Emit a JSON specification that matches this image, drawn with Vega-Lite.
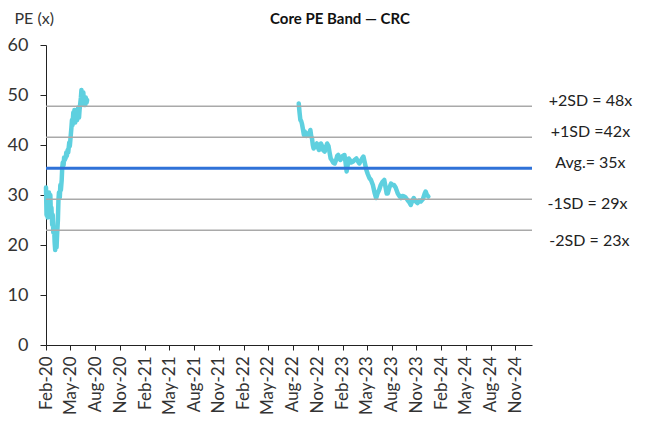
{
  "$schema": "https://vega.github.io/schema/vega-lite/v6.json",
  "width": 486,
  "height": 300,
  "autosize": "none",
  "padding": {"left": 46, "top": 45, "right": 121, "bottom": 80},
  "background": "white",
  "config": {
    "view": {"stroke": null},
    "font": "Lato",
    "axis": {"grid": false, "domainColor": "#222", "tickColor": "#222", "labelColor": "#333", "labelFont": "Lato", "labelFontSize": 17, "titleFont": "Lato"},
    "axisX": {"labelOverlap": false, "labelSeparation": 0}
  },
  "title": {"text": "Core PE Band — CRC", "fontSize": 15, "fontWeight": "bold", "font": "Lato", "anchor": "middle", "dx": 51, "offset": -17, "color": "#111"},
  "datasets": {
    "pe": [
      {"date": "2020-02-01", "pe": 31.5, "seg": "A"},
      {"date": "2020-02-03", "pe": 26, "seg": "A"},
      {"date": "2020-02-05", "pe": 29, "seg": "A"},
      {"date": "2020-02-07", "pe": 25.5, "seg": "A"},
      {"date": "2020-02-10", "pe": 28, "seg": "A"},
      {"date": "2020-02-12", "pe": 30.5, "seg": "A"},
      {"date": "2020-02-14", "pe": 27, "seg": "A"},
      {"date": "2020-02-17", "pe": 30, "seg": "A"},
      {"date": "2020-02-19", "pe": 26.5, "seg": "A"},
      {"date": "2020-02-21", "pe": 27.5, "seg": "A"},
      {"date": "2020-02-24", "pe": 24, "seg": "A"},
      {"date": "2020-02-26", "pe": 26, "seg": "A"},
      {"date": "2020-02-28", "pe": 22.5, "seg": "A"},
      {"date": "2020-03-02", "pe": 23.5, "seg": "A"},
      {"date": "2020-03-04", "pe": 20.5, "seg": "A"},
      {"date": "2020-03-06", "pe": 19, "seg": "A"},
      {"date": "2020-03-09", "pe": 21, "seg": "A"},
      {"date": "2020-03-11", "pe": 19.5, "seg": "A"},
      {"date": "2020-03-13", "pe": 22, "seg": "A"},
      {"date": "2020-03-16", "pe": 25, "seg": "A"},
      {"date": "2020-03-18", "pe": 29, "seg": "A"},
      {"date": "2020-03-20", "pe": 30.5, "seg": "A"},
      {"date": "2020-03-23", "pe": 29.5, "seg": "A"},
      {"date": "2020-03-25", "pe": 32, "seg": "A"},
      {"date": "2020-03-27", "pe": 31, "seg": "A"},
      {"date": "2020-03-30", "pe": 33, "seg": "A"},
      {"date": "2020-04-01", "pe": 35.5, "seg": "A"},
      {"date": "2020-04-03", "pe": 36.5, "seg": "A"},
      {"date": "2020-04-06", "pe": 36, "seg": "A"},
      {"date": "2020-04-08", "pe": 37.5, "seg": "A"},
      {"date": "2020-04-10", "pe": 37, "seg": "A"},
      {"date": "2020-04-14", "pe": 37.5, "seg": "A"},
      {"date": "2020-04-16", "pe": 38.5, "seg": "A"},
      {"date": "2020-04-18", "pe": 37.8, "seg": "A"},
      {"date": "2020-04-21", "pe": 39, "seg": "A"},
      {"date": "2020-04-23", "pe": 38.5, "seg": "A"},
      {"date": "2020-04-27", "pe": 40.5, "seg": "A"},
      {"date": "2020-04-29", "pe": 39.8, "seg": "A"},
      {"date": "2020-05-01", "pe": 41, "seg": "A"},
      {"date": "2020-05-05", "pe": 43.5, "seg": "A"},
      {"date": "2020-05-07", "pe": 45, "seg": "A"},
      {"date": "2020-05-09", "pe": 44, "seg": "A"},
      {"date": "2020-05-12", "pe": 46.5, "seg": "A"},
      {"date": "2020-05-14", "pe": 45, "seg": "A"},
      {"date": "2020-05-16", "pe": 47, "seg": "A"},
      {"date": "2020-05-19", "pe": 44.5, "seg": "A"},
      {"date": "2020-05-21", "pe": 46, "seg": "A"},
      {"date": "2020-05-23", "pe": 47, "seg": "A"},
      {"date": "2020-05-26", "pe": 45, "seg": "A"},
      {"date": "2020-05-28", "pe": 46.5, "seg": "A"},
      {"date": "2020-05-30", "pe": 47.5, "seg": "A"},
      {"date": "2020-06-02", "pe": 45.5, "seg": "A"},
      {"date": "2020-06-04", "pe": 47, "seg": "A"},
      {"date": "2020-06-06", "pe": 48, "seg": "A"},
      {"date": "2020-06-09", "pe": 49.5, "seg": "A"},
      {"date": "2020-06-11", "pe": 51, "seg": "A"},
      {"date": "2020-06-13", "pe": 50, "seg": "A"},
      {"date": "2020-06-16", "pe": 48.5, "seg": "A"},
      {"date": "2020-06-18", "pe": 50.5, "seg": "A"},
      {"date": "2020-06-20", "pe": 48, "seg": "A"},
      {"date": "2020-06-23", "pe": 49, "seg": "A"},
      {"date": "2020-06-25", "pe": 48, "seg": "A"},
      {"date": "2020-06-27", "pe": 49.5, "seg": "A"},
      {"date": "2020-06-30", "pe": 48.5, "seg": "A"},
      {"date": "2020-07-02", "pe": 49, "seg": "A"},
      {"date": "2022-08-23", "pe": 48.3, "seg": "B"},
      {"date": "2022-08-26", "pe": 46.5, "seg": "B"},
      {"date": "2022-08-29", "pe": 45, "seg": "B"},
      {"date": "2022-09-01", "pe": 44.8, "seg": "B"},
      {"date": "2022-09-04", "pe": 44.2, "seg": "B"},
      {"date": "2022-09-08", "pe": 43, "seg": "B"},
      {"date": "2022-09-11", "pe": 42, "seg": "B"},
      {"date": "2022-09-14", "pe": 42.7, "seg": "B"},
      {"date": "2022-09-17", "pe": 42.2, "seg": "B"},
      {"date": "2022-09-20", "pe": 41.8, "seg": "B"},
      {"date": "2022-09-24", "pe": 42.3, "seg": "B"},
      {"date": "2022-09-28", "pe": 41.9, "seg": "B"},
      {"date": "2022-10-02", "pe": 42.5, "seg": "B"},
      {"date": "2022-10-05", "pe": 43, "seg": "B"},
      {"date": "2022-10-08", "pe": 41.8, "seg": "B"},
      {"date": "2022-10-11", "pe": 41.3, "seg": "B"},
      {"date": "2022-10-14", "pe": 40, "seg": "B"},
      {"date": "2022-10-17", "pe": 39.3, "seg": "B"},
      {"date": "2022-10-21", "pe": 39.8, "seg": "B"},
      {"date": "2022-10-25", "pe": 40, "seg": "B"},
      {"date": "2022-10-29", "pe": 40.3, "seg": "B"},
      {"date": "2022-11-02", "pe": 39.5, "seg": "B"},
      {"date": "2022-11-06", "pe": 39, "seg": "B"},
      {"date": "2022-11-09", "pe": 39.2, "seg": "B"},
      {"date": "2022-11-13", "pe": 40.3, "seg": "B"},
      {"date": "2022-11-17", "pe": 39.8, "seg": "B"},
      {"date": "2022-11-21", "pe": 39, "seg": "B"},
      {"date": "2022-11-27", "pe": 38.7, "seg": "B"},
      {"date": "2022-12-01", "pe": 39.5, "seg": "B"},
      {"date": "2022-12-06", "pe": 40.3, "seg": "B"},
      {"date": "2022-12-11", "pe": 39.8, "seg": "B"},
      {"date": "2022-12-15", "pe": 38.5, "seg": "B"},
      {"date": "2022-12-19", "pe": 37.3, "seg": "B"},
      {"date": "2022-12-23", "pe": 37, "seg": "B"},
      {"date": "2022-12-28", "pe": 36.5, "seg": "B"},
      {"date": "2023-01-03", "pe": 36.3, "seg": "B"},
      {"date": "2023-01-08", "pe": 37, "seg": "B"},
      {"date": "2023-01-12", "pe": 37.8, "seg": "B"},
      {"date": "2023-01-16", "pe": 38, "seg": "B"},
      {"date": "2023-01-20", "pe": 37.5, "seg": "B"},
      {"date": "2023-01-24", "pe": 37, "seg": "B"},
      {"date": "2023-01-28", "pe": 37.3, "seg": "B"},
      {"date": "2023-02-02", "pe": 37.8, "seg": "B"},
      {"date": "2023-02-08", "pe": 38, "seg": "B"},
      {"date": "2023-02-12", "pe": 36.5, "seg": "B"},
      {"date": "2023-02-16", "pe": 34.7, "seg": "B"},
      {"date": "2023-02-20", "pe": 36, "seg": "B"},
      {"date": "2023-02-24", "pe": 37.3, "seg": "B"},
      {"date": "2023-02-28", "pe": 37, "seg": "B"},
      {"date": "2023-03-05", "pe": 36.5, "seg": "B"},
      {"date": "2023-03-12", "pe": 36.7, "seg": "B"},
      {"date": "2023-03-17", "pe": 37, "seg": "B"},
      {"date": "2023-03-24", "pe": 37.3, "seg": "B"},
      {"date": "2023-03-29", "pe": 36.8, "seg": "B"},
      {"date": "2023-04-04", "pe": 36.3, "seg": "B"},
      {"date": "2023-04-09", "pe": 36.8, "seg": "B"},
      {"date": "2023-04-14", "pe": 37.3, "seg": "B"},
      {"date": "2023-04-19", "pe": 37.7, "seg": "B"},
      {"date": "2023-04-24", "pe": 36.5, "seg": "B"},
      {"date": "2023-04-30", "pe": 35, "seg": "B"},
      {"date": "2023-05-05", "pe": 34.2, "seg": "B"},
      {"date": "2023-05-11", "pe": 33.4, "seg": "B"},
      {"date": "2023-05-17", "pe": 33, "seg": "B"},
      {"date": "2023-05-24", "pe": 32, "seg": "B"},
      {"date": "2023-05-30", "pe": 30.5, "seg": "B"},
      {"date": "2023-06-05", "pe": 29.4, "seg": "B"},
      {"date": "2023-06-10", "pe": 30.3, "seg": "B"},
      {"date": "2023-06-16", "pe": 31, "seg": "B"},
      {"date": "2023-06-22", "pe": 32, "seg": "B"},
      {"date": "2023-06-28", "pe": 32.6, "seg": "B"},
      {"date": "2023-07-05", "pe": 33, "seg": "B"},
      {"date": "2023-07-10", "pe": 31.5, "seg": "B"},
      {"date": "2023-07-14", "pe": 30.3, "seg": "B"},
      {"date": "2023-07-18", "pe": 30.3, "seg": "B"},
      {"date": "2023-07-24", "pe": 31.5, "seg": "B"},
      {"date": "2023-07-30", "pe": 32.3, "seg": "B"},
      {"date": "2023-08-04", "pe": 32, "seg": "B"},
      {"date": "2023-08-10", "pe": 32, "seg": "B"},
      {"date": "2023-08-16", "pe": 31.5, "seg": "B"},
      {"date": "2023-08-24", "pe": 30.3, "seg": "B"},
      {"date": "2023-08-30", "pe": 29.8, "seg": "B"},
      {"date": "2023-09-05", "pe": 29.4, "seg": "B"},
      {"date": "2023-09-10", "pe": 29.8, "seg": "B"},
      {"date": "2023-09-16", "pe": 29.7, "seg": "B"},
      {"date": "2023-09-22", "pe": 29.5, "seg": "B"},
      {"date": "2023-09-29", "pe": 29, "seg": "B"},
      {"date": "2023-10-05", "pe": 28.6, "seg": "B"},
      {"date": "2023-10-11", "pe": 28, "seg": "B"},
      {"date": "2023-10-16", "pe": 28.8, "seg": "B"},
      {"date": "2023-10-22", "pe": 29.4, "seg": "B"},
      {"date": "2023-10-28", "pe": 28.8, "seg": "B"},
      {"date": "2023-11-05", "pe": 28.4, "seg": "B"},
      {"date": "2023-11-11", "pe": 28.9, "seg": "B"},
      {"date": "2023-11-17", "pe": 28.7, "seg": "B"},
      {"date": "2023-11-25", "pe": 29.2, "seg": "B"},
      {"date": "2023-12-01", "pe": 30.2, "seg": "B"},
      {"date": "2023-12-05", "pe": 30.7, "seg": "B"},
      {"date": "2023-12-10", "pe": 30, "seg": "B"},
      {"date": "2023-12-15", "pe": 29.7, "seg": "B"}
    ],
    "bands": [
      {"band": "+2SD", "value": 47.75, "label": "+2SD = 48x", "kind": "sd", "side": "up"},
      {"band": "+1SD", "value": 41.55, "label": "+1SD =42x", "kind": "sd", "side": "up"},
      {"band": "Avg", "value": 35.35, "label": "Avg.= 35x", "kind": "avg", "side": "up"},
      {"band": "-1SD", "value": 29.15, "label": "-1SD = 29x", "kind": "sd", "side": "down"},
      {"band": "-2SD", "value": 22.95, "label": "-2SD = 23x", "kind": "sd", "side": "far"}
    ]
  },
  "layer": [
    {
      "data": {"name": "pe"},
      "mark": {"type": "line", "color": "#5ED0DF", "strokeWidth": 4.5, "strokeJoin": "round", "strokeCap": "round"},
      "encoding": {
        "x": {
          "field": "date", "type": "temporal",
          "scale": {"domain": [{"year": 2020, "month": 2, "date": 1}, {"year": 2025, "month": 1, "date": 1}]},
          "axis": {
            "title": null, "format": "%b-%y", "labelAngle": 270, "labelAlign": "right", "labelBaseline": "middle",
            "tickSize": 5, "labelPadding": 6, "labelOverlap": false, "labelFlush": false, "tickCount": 40,
            "values": [
              {"year": 2020, "month": 2, "date": 1}, {"year": 2020, "month": 5, "date": 1}, {"year": 2020, "month": 8, "date": 1}, {"year": 2020, "month": 11, "date": 1},
              {"year": 2021, "month": 2, "date": 1}, {"year": 2021, "month": 5, "date": 1}, {"year": 2021, "month": 8, "date": 1}, {"year": 2021, "month": 11, "date": 1},
              {"year": 2022, "month": 2, "date": 1}, {"year": 2022, "month": 5, "date": 1}, {"year": 2022, "month": 8, "date": 1}, {"year": 2022, "month": 11, "date": 1},
              {"year": 2023, "month": 2, "date": 1}, {"year": 2023, "month": 5, "date": 1}, {"year": 2023, "month": 8, "date": 1}, {"year": 2023, "month": 11, "date": 1},
              {"year": 2024, "month": 2, "date": 1}, {"year": 2024, "month": 5, "date": 1}, {"year": 2024, "month": 8, "date": 1}, {"year": 2024, "month": 11, "date": 1}
            ]
          }
        },
        "y": {
          "field": "pe", "type": "quantitative",
          "scale": {"domain": [0, 60], "nice": false, "zero": true},
          "axis": {
            "title": "PE (x)", "titleAngle": 0, "titleAlign": "left", "titleBaseline": "middle", "titleX": -32, "titleY": -27,
            "titleFontSize": 16, "titleFontWeight": "normal", "titleColor": "#333",
            "values": [0, 10, 20, 30, 40, 50, 60], "tickSize": 6, "labelPadding": 12, "labelFontSize": 18
          }
        },
        "detail": {"field": "seg"}
      }
    },
    {
      "data": {"name": "bands"},
      "transform": [{"filter": "datum.kind == 'sd'"}],
      "mark": {"type": "rule", "color": "#A9A9A9", "strokeWidth": 1.5},
      "encoding": {"y": {"field": "value", "type": "quantitative"}}
    },
    {
      "data": {"name": "bands"},
      "transform": [{"filter": "datum.kind == 'avg'"}],
      "mark": {"type": "rule", "color": "#2F72D8", "strokeWidth": 3},
      "encoding": {"y": {"field": "value", "type": "quantitative"}}
    },
    {
      "data": {"name": "bands"},
      "transform": [{"filter": "datum.side == 'up'"}],
      "mark": {"type": "text", "align": "center", "baseline": "middle", "dy": -5, "fontSize": 16, "font": "Lato", "color": "#222"},
      "encoding": {
        "x": {"datum": {"year": 2025, "month": 8, "date": 5}, "type": "temporal"},
        "y": {"field": "value", "type": "quantitative"},
        "text": {"field": "label"}
      }
    },
    {
      "data": {"name": "bands"},
      "transform": [{"filter": "datum.side == 'down'"}],
      "mark": {"type": "text", "align": "center", "baseline": "middle", "dy": 5, "fontSize": 16, "font": "Lato", "color": "#222"},
      "encoding": {
        "x": {"datum": {"year": 2025, "month": 7, "date": 25}, "type": "temporal"},
        "y": {"field": "value", "type": "quantitative"},
        "text": {"field": "label"}
      }
    },
    {
      "data": {"name": "bands"},
      "transform": [{"filter": "datum.side == 'far'"}],
      "mark": {"type": "text", "align": "center", "baseline": "middle", "dy": 11, "fontSize": 16, "font": "Lato", "color": "#222"},
      "encoding": {
        "x": {"datum": {"year": 2025, "month": 8, "date": 1}, "type": "temporal"},
        "y": {"field": "value", "type": "quantitative"},
        "text": {"field": "label"}
      }
    }
  ]
}
